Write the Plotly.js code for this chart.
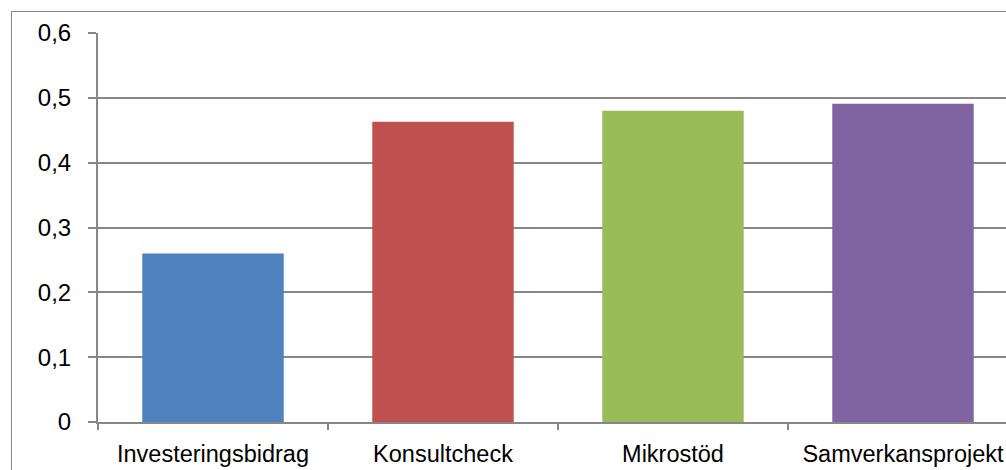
<!DOCTYPE html>
<html><head><meta charset="utf-8">
<script src="https://cdn.plot.ly/plotly-3.0.1.min.js"></script>
<style>
html,body{margin:0;padding:0;overflow:hidden;background:#fff;width:1006px;height:470px;}
#frame{position:absolute;left:11px;top:11px;width:1060px;height:520px;border:1px solid #8a8a8a;box-sizing:border-box;}
#chart{position:absolute;left:0;top:0;width:1038px;height:500px;}
</style></head>
<body>
<div id="frame"></div>
<div id="chart"></div>
<script>
const categories = ["Investeringsbidrag", "Konsultcheck", "Mikrostöd", "Samverkansprojekt"];
const values = [0.26, 0.463, 0.48, 0.491];
const colors = ["#4F81BD", "#C0504D", "#9BBB59", "#8064A2"];
const yTicks = [0, 0.1, 0.2, 0.3, 0.4, 0.5, 0.6];
const yTickText = ["0", "0,1", "0,2", "0,3", "0,4", "0,5", "0,6"];

const trace = {
  type: "bar",
  x: categories,
  y: values,
  marker: {color: colors, line: {width: 0}},
  hoverinfo: "none"
};
const fontFam = "'Liberation Sans', Arial, sans-serif";
const layout = {
  width: 1038, height: 500,
  margin: {l: 98, t: 33, r: 20, b: 78, pad: 0},
  paper_bgcolor: "rgba(0,0,0,0)",
  plot_bgcolor: "rgba(0,0,0,0)",
  bargap: 0.385,
  showlegend: false,
  font: {family: fontFam, size: 24, color: "#000"},
  xaxis: {
    type: "category",
    showline: true, linecolor: "#878787", linewidth: 2,
    ticks: "outside", tickson: "boundaries", ticklen: 6, tickcolor: "#878787", tickwidth: 2,
    showgrid: false, zeroline: false,
    ticklabelstandoff: 10,
    tickfont: {family: fontFam, size: 23.5}
  },
  yaxis: {
    range: [0, 0.6],
    tickvals: yTicks, ticktext: yTickText,
    showline: true, linecolor: "#878787", linewidth: 2,
    ticks: "outside", ticklen: 8, tickcolor: "#878787", tickwidth: 2,
    showgrid: true, gridcolor: "#878787", gridwidth: 2,
    zeroline: false,
    ticklabelstandoff: 12,
    tickfont: {family: fontFam, size: 24}
  }
};
Plotly.newPlot("chart", [trace], layout, {staticPlot: true, displayModeBar: false});
</script>
</body></html>
